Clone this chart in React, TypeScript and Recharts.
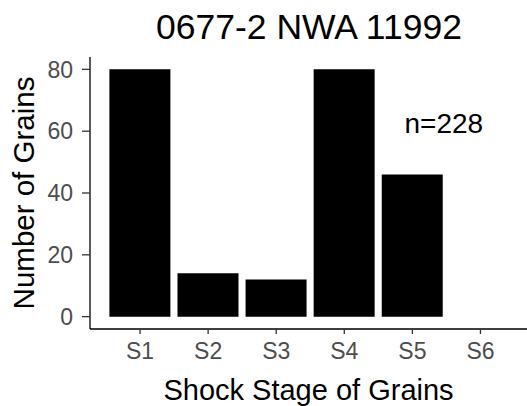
import React from 'react';
import { BarChart, Bar, XAxis, YAxis, ReferenceDot } from 'recharts';

const stages = ['S1', 'S2', 'S3', 'S4', 'S5', 'S6'];
const grainCounts = [80, 14, 12, 80, 46, 0];
const yTicks = [0, 20, 40, 60, 80];
const chartTitle = '0677-2 NWA 11992';
const xTitle = 'Shock Stage of Grains';
const yTitle = 'Number of Grains';
const noteText = 'n=228';
const noteStage = 'S5';
const noteValue = 62.5;

const data = stages.map((s, i) => ({ stage: s, count: grainCounts[i] }));

const FONT = '"Liberation Sans", Arial, sans-serif';

export default function App() {
  return (
    <div style={{ position: 'absolute', left: 0, top: 0, width: 527, height: 406, background: '#fff', fontFamily: FONT }}>
      <div
        style={{
          position: 'absolute',
          left: 0,
          top: 10,
          width: 618,
          textAlign: 'center',
          fontSize: 35.5,
          lineHeight: '35.5px',
          color: '#000',
          fontFamily: FONT,
        }}
      >
        {chartTitle}
      </div>
      <BarChart
        width={527}
        height={406}
        data={data}
        margin={{ top: 57, right: 0, bottom: 0, left: 0 }}
        barCategoryGap="5%"
      >
        <XAxis
          dataKey="stage"
          height={77}
          padding={{ left: 16, right: 12.5 }}
          tickSize={5}
          tickMargin={9}
          axisLine={{ stroke: '#000', strokeWidth: 1.3 }}
          tickLine={{ stroke: '#333', strokeWidth: 1.3 }}
          tick={{ fill: '#4D4D4D', fontSize: 23, fontFamily: FONT }}
          label={{
            value: xTitle,
            position: 'insideBottom',
            offset: 6,
            style: { fill: '#000', fontSize: 29, fontFamily: FONT, textAnchor: 'middle' },
          }}
        />
        <YAxis
          width={90}
          domain={[-4, 84]}
          ticks={yTicks}
          allowDataOverflow
          tickSize={8}
          tickMargin={9}
          axisLine={{ stroke: '#000', strokeWidth: 1.3 }}
          tickLine={{ stroke: '#333', strokeWidth: 1.3 }}
          tick={{ fill: '#4D4D4D', fontSize: 23, fontFamily: FONT }}
          label={{
            value: yTitle,
            angle: -90,
            position: 'center',
            dx: -21,
            style: { fill: '#000', fontSize: 29.5, fontFamily: FONT, textAnchor: 'middle' },
          }}
        />
        <Bar dataKey="count" fill="#000" isAnimationActive={false} />
        <ReferenceDot
          x={noteStage}
          y={noteValue}
          r={0}
          fill="none"
          stroke="none"
          label={{
            value: noteText,
            position: 'center',
            dx: 31.5,
            style: { fill: '#000', fontSize: 28, fontFamily: FONT },
          }}
        />
      </BarChart>
    </div>
  );
}
